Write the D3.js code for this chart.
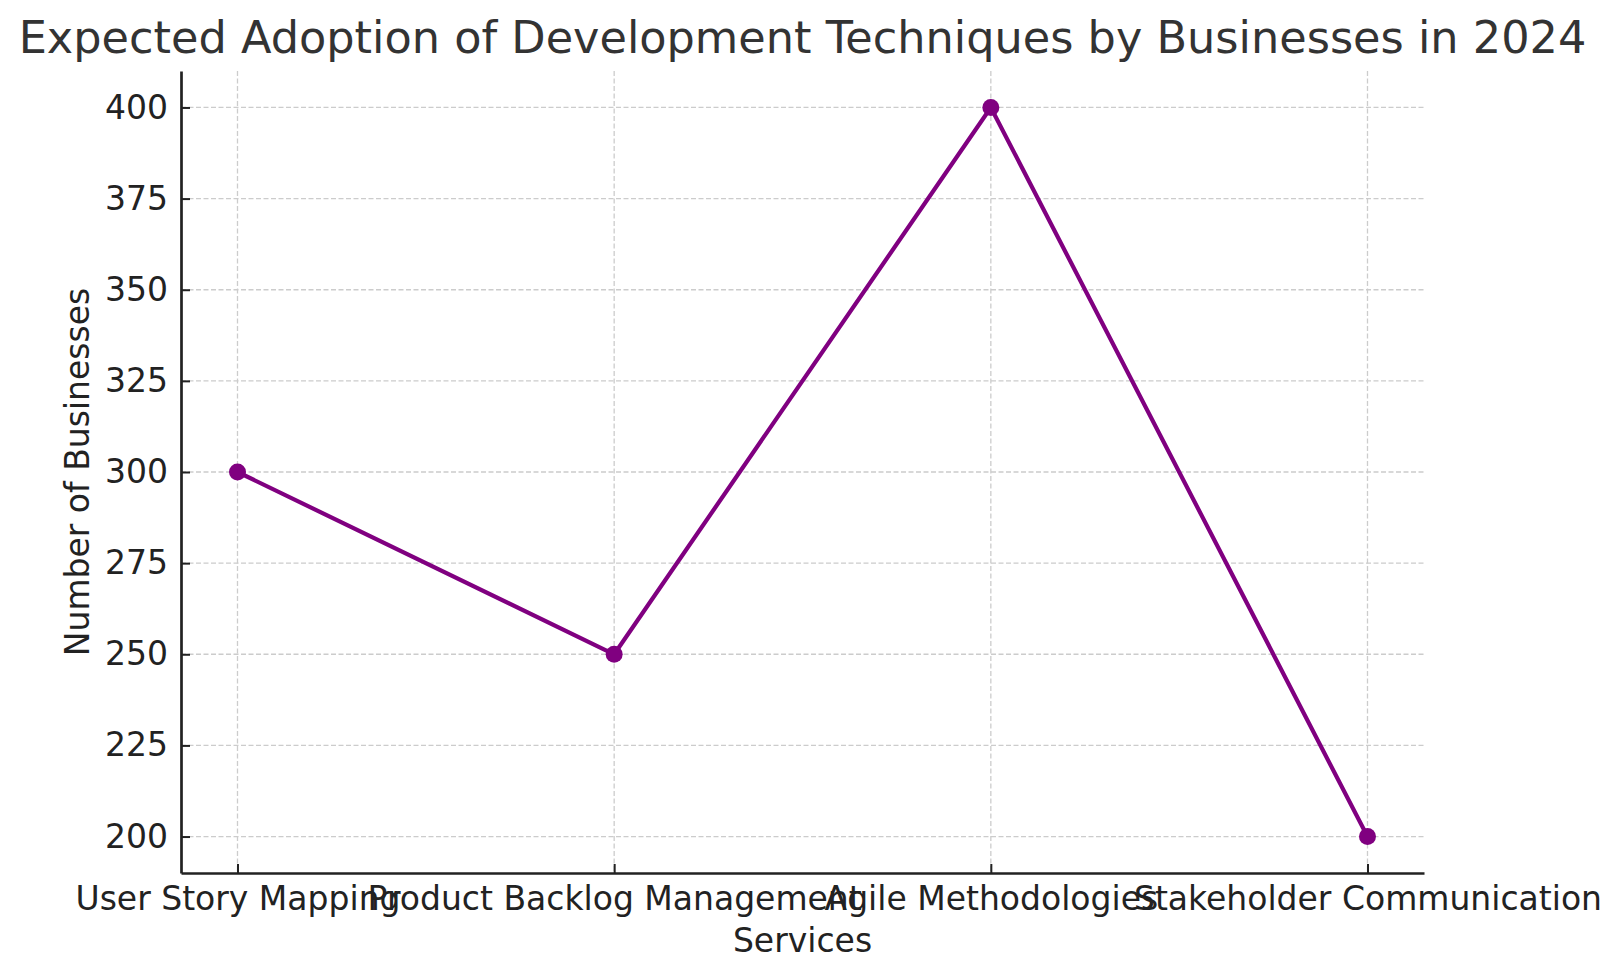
<!DOCTYPE html>
<html>
<head>
<meta charset="utf-8">
<script src="https://cdn.jsdelivr.net/npm/d3@7"></script>
<style>
  body { margin: 0; background: #fff; }
  svg { display: block; font-family: "DejaVu Sans", sans-serif; }
</style>
</head>
<body>
<div id="chart"></div>
<script>
/* Chart values */
const categories = ["User Story Mapping", "Product Backlog Management", "Agile Methodologies", "Stakeholder Communication"];
const businesses = [300, 250, 400, 200];
const yTicks = [200, 225, 250, 275, 300, 325, 350, 375, 400];

/* Dimensions */
let width = 1623;
let height = 980;
let margin = {top: 71, bottom: 107, left: 181, right: 199};
let plotRight = width - margin.right;
let plotBottom = height - margin.bottom;

let svg = d3.select("#chart")
            .append("svg")
              .attr("width", width)
              .attr("height", height);

let xScale = d3.scaleLinear()
               .domain([-0.15, categories.length - 1 + 0.15])
               .range([margin.left, plotRight]);

let yScale = d3.scaleLinear()
               .domain([190, 410])
               .range([plotBottom, margin.top]);

// dashed grid
let grid = svg.append("g").attr("class", "grid");

grid.selectAll("line.h")
    .data(yTicks)
    .enter()
    .append("line")
      .attr("class", "h")
      .attr("x1", margin.left)
      .attr("x2", plotRight)
      .attr("y1", d => yScale(d))
      .attr("y2", d => yScale(d));

grid.selectAll("line.v")
    .data(categories)
    .enter()
    .append("line")
      .attr("class", "v")
      .attr("x1", (d, i) => xScale(i))
      .attr("x2", (d, i) => xScale(i))
      .attr("y1", margin.top)
      .attr("y2", plotBottom);

grid.selectAll("line")
    .attr("stroke", "#cccccc")
    .attr("stroke-width", 1.3)
    .attr("stroke-dasharray", "5,2.5");

// axes (ticks point inward)
let xAxis = svg.append("g")
     .attr("transform", `translate(0, ${plotBottom})`)
     .call(d3.axisBottom(xScale)
             .tickValues(d3.range(categories.length))
             .tickFormat(i => categories[i])
             .tickSizeInner(-9)
             .tickSizeOuter(0)
             .tickPadding(14));

let yAxis = svg.append("g")
     .attr("transform", `translate(${margin.left}, 0)`)
     .call(d3.axisLeft(yScale)
             .tickValues(yTicks)
             .tickSizeInner(-9)
             .tickSizeOuter(0)
             .tickPadding(13));

[xAxis, yAxis].forEach(ax => {
  ax.select(".domain").attr("stroke", "#222").attr("stroke-width", 2.7);
  ax.selectAll(".tick line").attr("stroke", "#222").attr("stroke-width", 2);
  ax.selectAll(".tick text")
    .attr("fill", "#222")
    .style("font-size", "33px")
    .style("font-family", "DejaVu Sans, sans-serif");
});

// line + markers
let line = d3.line()
             .x((d, i) => xScale(i))
             .y(d => yScale(d));

svg.append("path")
   .datum(businesses)
   .attr("d", line)
   .attr("fill", "none")
   .attr("stroke", "#800080")
   .attr("stroke-width", 4.2)
   .attr("stroke-linejoin", "round");

svg.append("g")
   .selectAll("circle")
   .data(businesses)
   .enter()
   .append("circle")
     .attr("cx", (d, i) => xScale(i))
     .attr("cy", d => yScale(d))
     .attr("r", 8.5)
     .attr("fill", "#800080");

// title and axis labels
let midX = (margin.left + plotRight) / 2;
let midY = (margin.top + plotBottom) / 2;

svg.append("text")
   .attr("x", midX)
   .attr("y", 53)
   .attr("text-anchor", "middle")
   .attr("fill", "#333")
   .style("font-size", "44.6px")
   .text("Expected Adoption of Development Techniques by Businesses in 2024");

svg.append("text")
   .attr("x", midX)
   .attr("y", 952)
   .attr("text-anchor", "middle")
   .attr("fill", "#222")
   .style("font-size", "33px")
   .text("Services");

svg.append("text")
   .attr("transform", `translate(89, ${midY}) rotate(-90)`)
   .attr("text-anchor", "middle")
   .attr("fill", "#222")
   .style("font-size", "33px")
   .text("Number of Businesses");
</script>
</body>
</html>
